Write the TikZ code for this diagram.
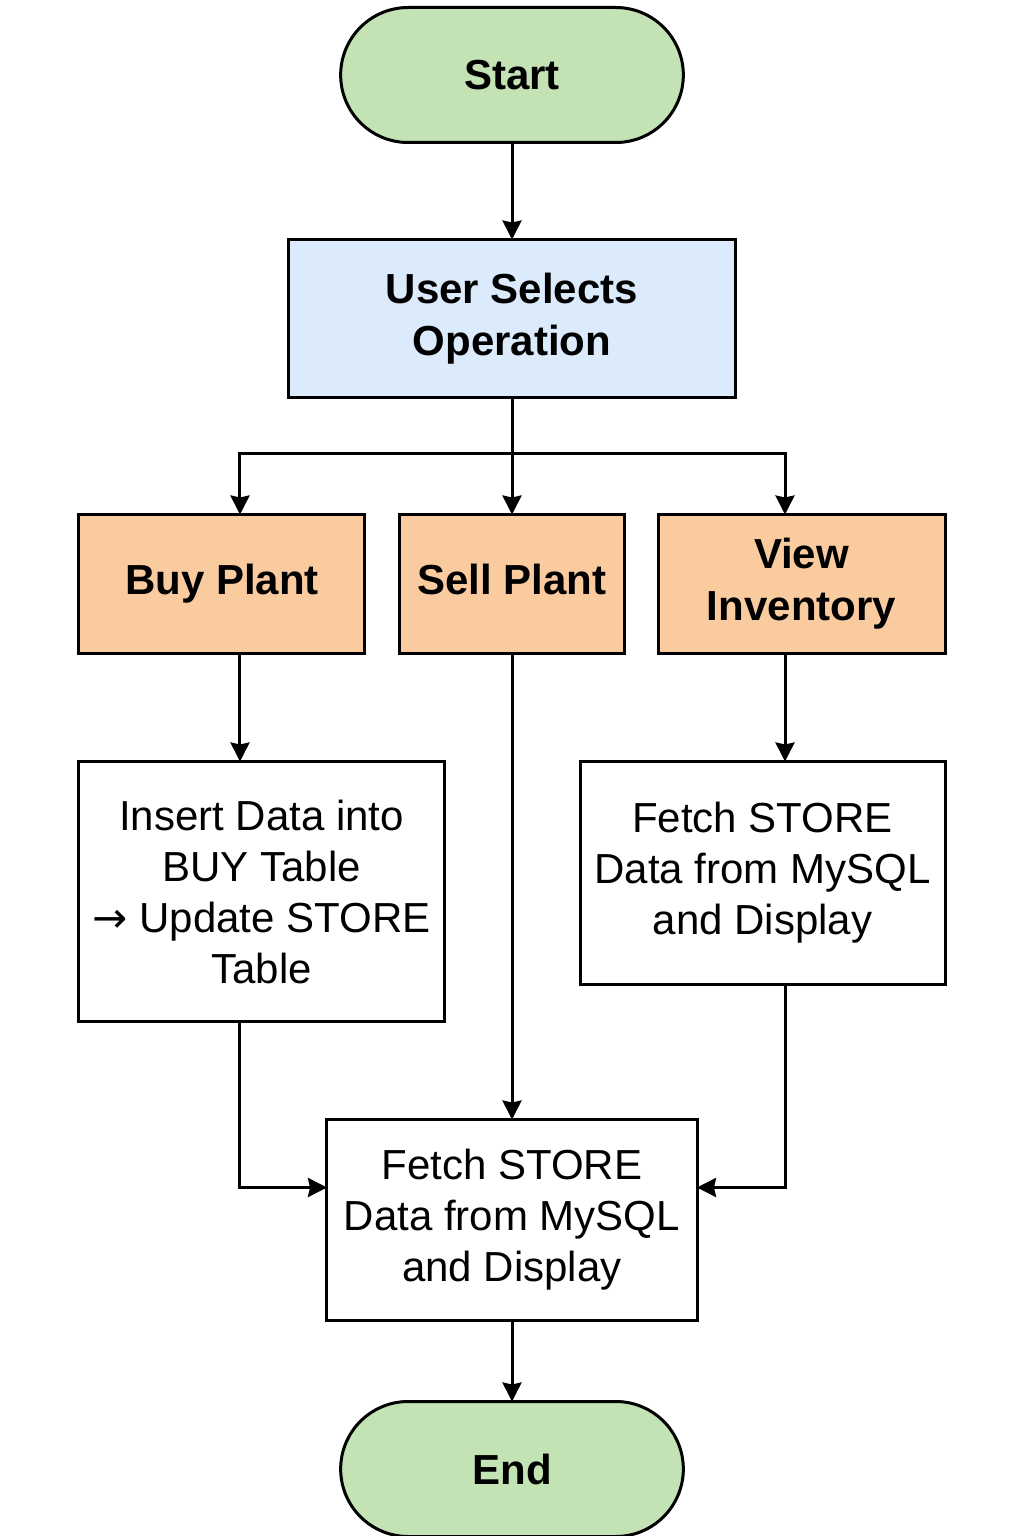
\documentclass[tikz,border=0pt]{standalone}
\usepackage{fontspec}
\setmainfont{Liberation Sans}
\newfontfamily\arrowfont{DejaVu Sans}
\usetikzlibrary{arrows.meta,calc,shapes.misc}
\usetikzlibrary{positioning}
\definecolor{termgreen}{HTML}{C3E3B5}
\definecolor{choiceblue}{HTML}{DCEBFC}
\definecolor{optionpeach}{HTML}{FBCBA0}

\begin{document}
\begin{tikzpicture} [
    line width=1.5pt,
    every node/.style={outer sep=0pt},
    term/.style={rounded rectangle, draw=black, fill=termgreen, minimum width=178pt, minimum height=67.5pt, font=\fontsize{21}{25.5}\selectfont\bfseries},
    choice/.style={rectangle, draw=black, fill=choiceblue, minimum width=223.5pt, minimum height=79pt, align=center, font=\fontsize{21}{26}\selectfont\bfseries},
    option/.style={rectangle, draw=black, fill=optionpeach, minimum height=69.5pt, align=center, font=\fontsize{21}{26}\selectfont\bfseries},
    task/.style={rectangle, draw=black, fill=white, minimum width=182.5pt, align=center, font=\fontsize{21}{25.5}\selectfont},
    >={Stealth[inset=1pt,length=9.5pt,width=9.5pt]}
    ]
    \useasboundingbox (-256pt,37.5pt) rectangle (256pt,-730.5pt);
    %Nodes
    \node[term]      (start)                                {Start};
    \node[choice]    (select)  [below=48.5pt of start]      {User Selects\\Operation};
    \node[option, minimum width=112pt]   (sell)  [below=58.5pt of select] {Sell Plant\strut};
    \node[option, minimum width=143pt]   (buy)   [left=17.5pt of sell]    {Buy Plant\strut};
    \node[option, minimum width=143.5pt] (view)  [right=17pt of sell]     {View\\Inventory};
    \node[task, minimum height=130pt]    (insert) [below right=54pt and 0pt of buy.south west]
        {Insert Data into\\BUY Table\\{\arrowfont →} Update STORE\\Table};
    \node[task, minimum height=111.5pt]  (fetch)  [below left=54pt and 0pt of view.south east]
        {Fetch STORE\\Data from MySQL\\and Display};
    \node[task, minimum width=185pt, minimum height=100.5pt] (show) [below=233pt of sell]
        {Fetch STORE\\Data from MySQL\\and Display};
    \node[term]      (end)     [below=40.5pt of show]       {End};
    %Helpers
    \coordinate (split)  at ($(select.south)+(0,-28pt)$);
    \coordinate (buyin)  at ($(buy.north)+(9pt,0)$);
    \coordinate (viewin) at ($(view.north)+(-8.25pt,0)$);
    %Lines
    \draw[->] (start.south) -- (select.north);
    \draw[->] (select.south) -- (sell.north);
    \draw[->] (split) -| (buyin);
    \draw[->] (split) -| (viewin);
    \draw[->] (buyin |- buy.south) -- (buyin |- insert.north);
    \draw[->] (viewin |- view.south) -- (viewin |- fetch.north);
    \draw[->] (sell.south) -- (show.north);
    \draw[->] (buyin |- insert.south) |- ($(show.west)+(0,16.25pt)$);
    \draw[->] (viewin |- fetch.south) |- ($(show.east)+(0,16.25pt)$);
    \draw[->] (show.south) -- (end.north);
\end{tikzpicture}
\end{document}
